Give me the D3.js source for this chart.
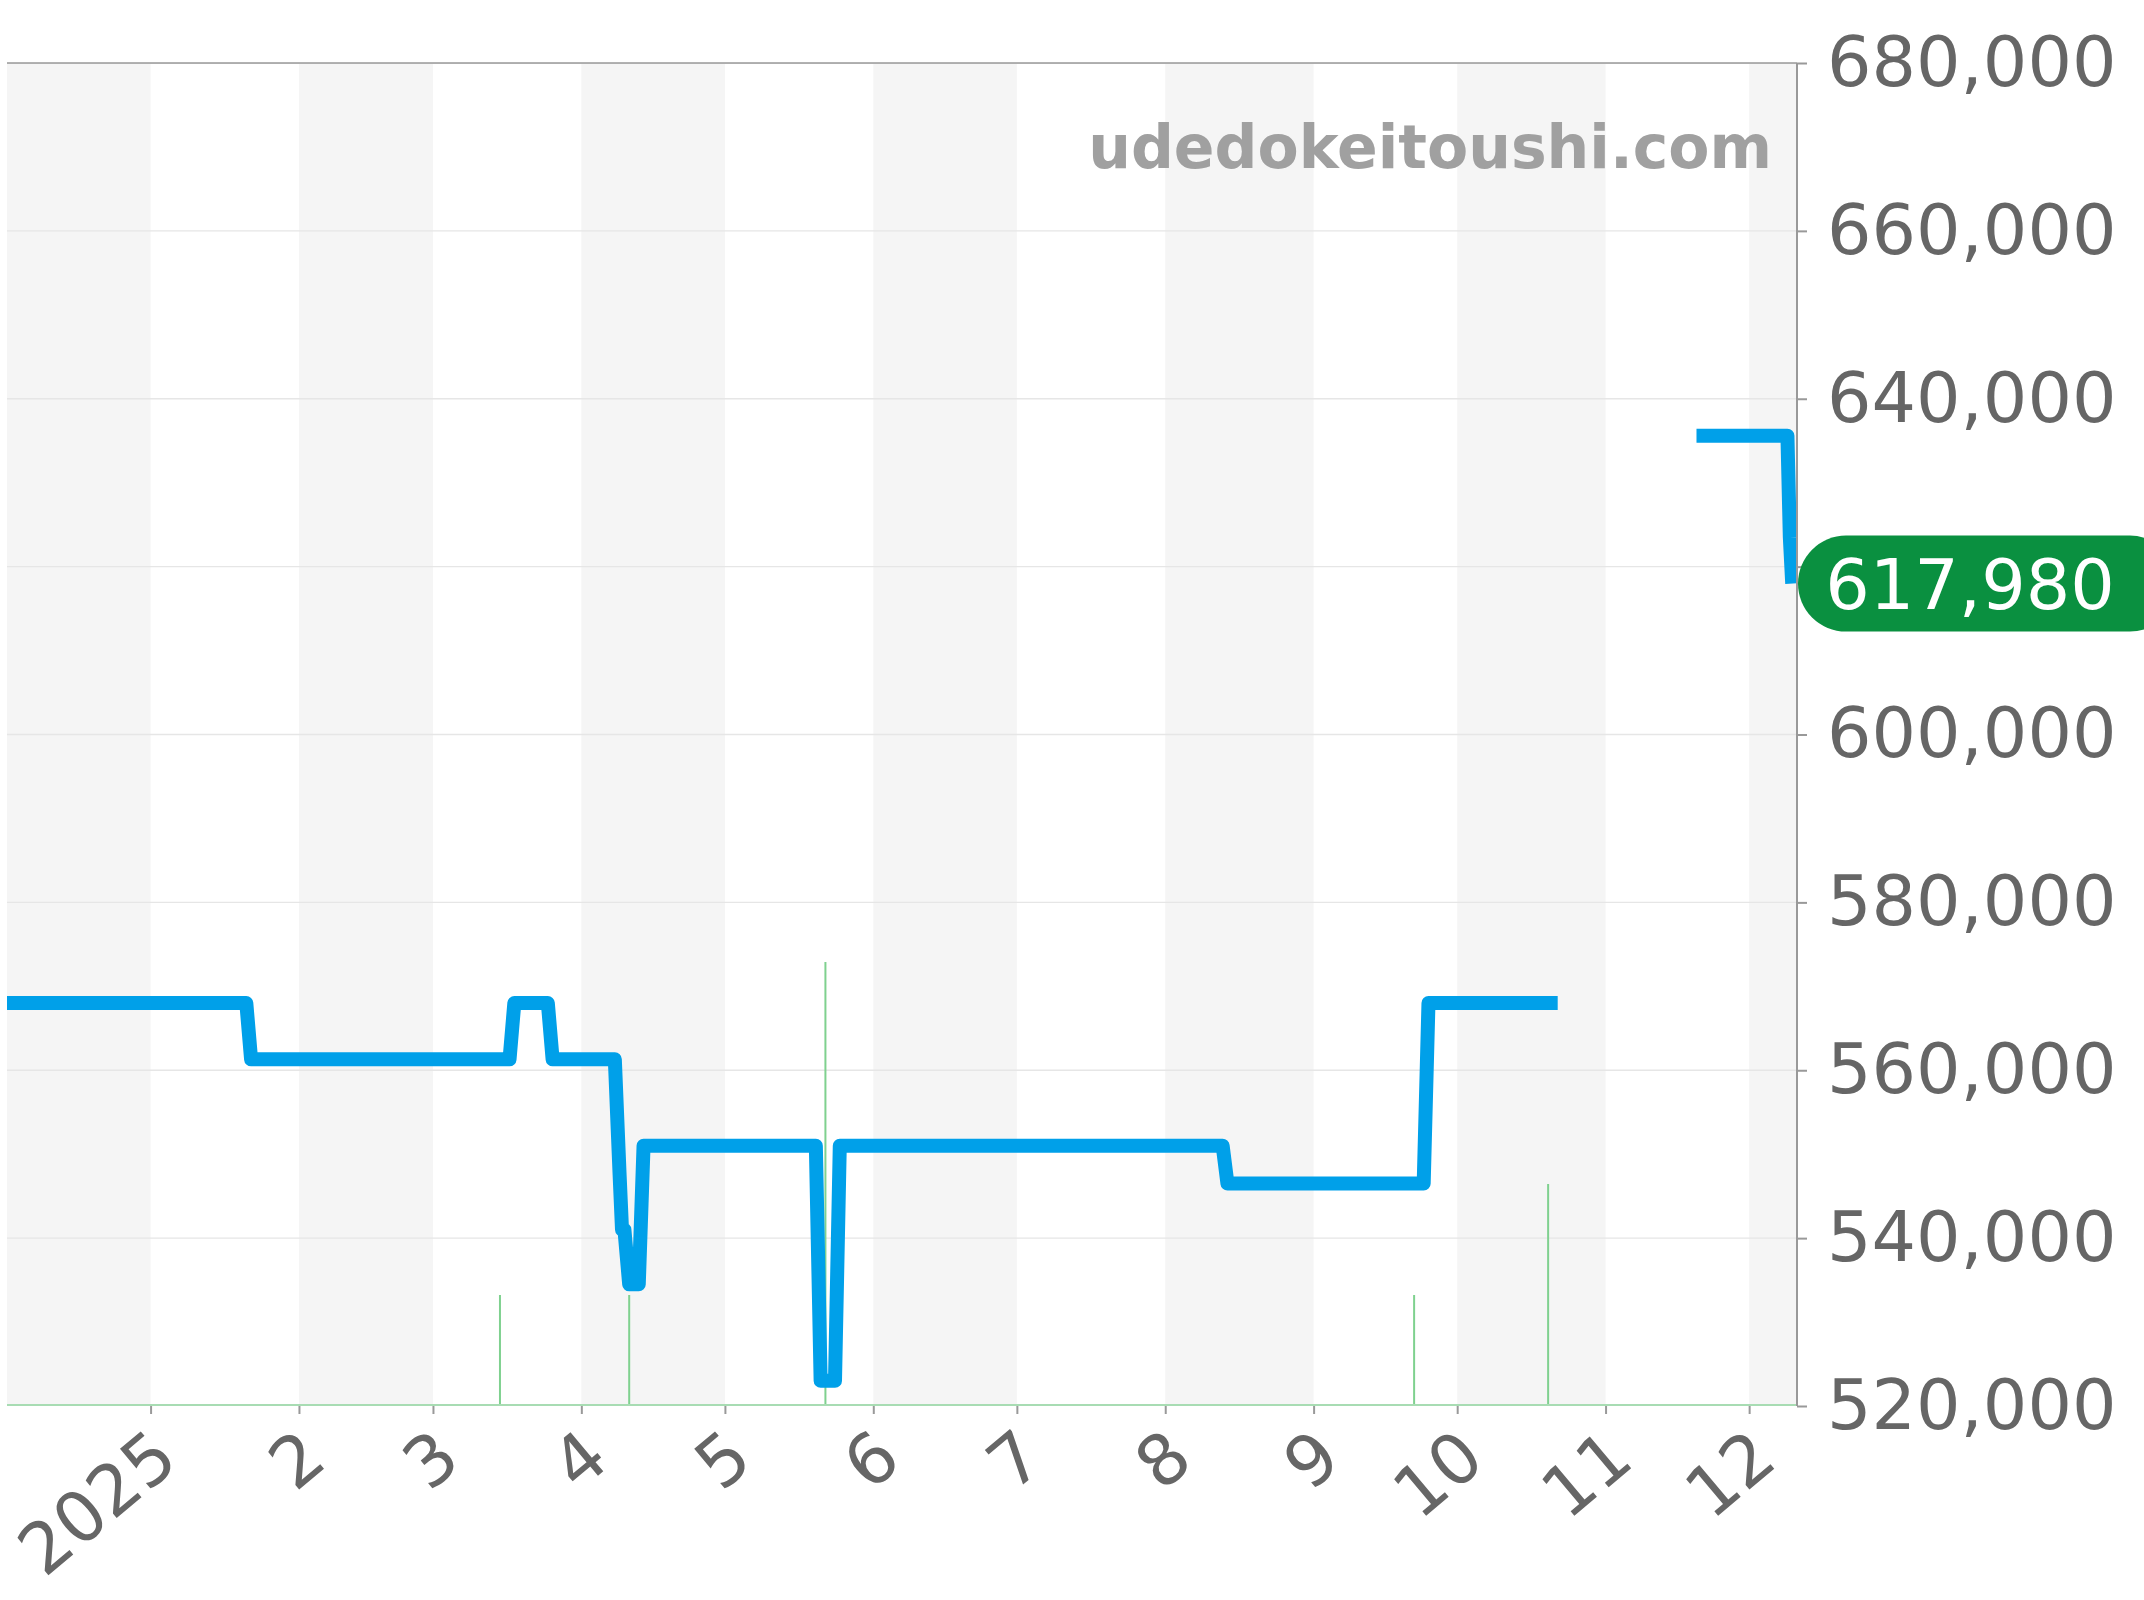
<!DOCTYPE html>
<html><head><meta charset="utf-8">
<script src="https://cdn.jsdelivr.net/npm/d3@7"></script>
<style>body{margin:0;background:#fff}</style></head>
<body><svg id="c" width="2144" height="1600"></svg>
<script>
const priceDates=["2024-12-02","2025-01-21","2025-01-22","2025-03-17","2025-03-18","2025-03-25","2025-03-26","2025-04-08","2025-04-09","2025-04-09T12","2025-04-10","2025-04-11","2025-04-12","2025-04-13","2025-04-14","2025-05-20","2025-05-21","2025-05-24","2025-05-25","2025-08-13","2025-08-14","2025-09-24","2025-09-25","2025-10-22","2025-10-23","2025-11-20","2025-12-09","2025-12-09T12","2025-12-10"];
const priceValues=[568000,568000,561300,561300,568000,568000,561300,561300,547500,541000,541000,534500,534500,534500,551000,551000,523000,523000,551000,551000,546500,546500,568000,568000,null,635600,635600,623500,617980];
const volDates=["2025-03-15","2025-04-11","2025-05-22","2025-09-22","2025-10-20"];
const volValues=[1,1,4,1,2];
const gridTicks=[520000,540000,560000,580000,600000,620000,640000,660000,680000];
const yTickLabels=[520000,540000,560000,580000,600000,640000,660000,680000];
const monthTicks=["2025-01-01","2025-02-01","2025-03-01","2025-04-01","2025-05-01","2025-06-01","2025-07-01","2025-08-01","2025-09-01","2025-10-01","2025-11-01","2025-12-01"];
const monthLabels=["2025","2","3","4","5","6","7","8","9","10","11","12"];
const shadeStarts=["2024-12-01","2025-02-01","2025-04-01","2025-06-01","2025-08-01","2025-10-01","2025-12-01"];
const lastLabel="617,980";

const P=d=>new Date(d.length>10?d+":00":d+"T00:00");
const L=7,R=1797,T=63,B=1406;
const svg=d3.select("#c");
const x=d3.scaleTime().domain([P("2024-12-02"),P("2025-12-11")]).range([L,R]);
const y=d3.scaleLinear().domain([520000,680000]).range([B,T]);
const yv=d3.scaleLinear().domain([0,1]).range([B,B-111]);
svg.append("defs").append("clipPath").attr("id","cl").append("rect").attr("x",L).attr("y",T).attr("width",R-L).attr("height",B-T);
const g=svg.append("g").attr("clip-path","url(#cl)");
shadeStarts.forEach(s=>{const a=P(s),b=d3.timeMonth.offset(a,1);
 g.append("rect").attr("x",x(a)).attr("y",T).attr("width",x(b)-x(a)).attr("height",B-T).attr("fill","#f5f5f5");});
gridTicks.forEach(t=>g.append("line").attr("x1",L).attr("x2",R).attr("y1",y(t)).attr("y2",y(t)).attr("stroke","#e6e6e6").attr("stroke-width",1.3));
volDates.forEach((d,i)=>g.append("line").attr("x1",x(P(d))).attr("x2",x(P(d))).attr("y1",B).attr("y2",yv(volValues[i])).attr("stroke","#7fd18f").attr("stroke-width",2));
g.append("line").attr("x1",L).attr("x2",R).attr("y1",B-1).attr("y2",B-1).attr("stroke","#a8dcb3").attr("stroke-width",2);
const data=priceDates.map((d,i)=>({d:P(d),v:priceValues[i]}));
g.append("path").datum(data).attr("fill","none").attr("stroke","#00a0e9").attr("stroke-width",14).attr("stroke-linejoin","round")
 .attr("d",d3.line().defined(p=>p.v!=null).x(p=>x(p.d)).y(p=>y(p.v)));
svg.append("line").attr("x1",L).attr("x2",R).attr("y1",T).attr("y2",T).attr("stroke","#999").attr("stroke-width",1.5);
svg.append("line").attr("x1",R).attr("x2",R).attr("y1",T).attr("y2",B).attr("stroke","#999").attr("stroke-width",2);
const ya=svg.append("g").attr("transform",`translate(${R},0)`).call(d3.axisRight(y).tickValues(gridTicks).tickFormat(d=>yTickLabels.includes(d)?d3.format(",")(d):"").tickSize(10).tickPadding(20));
ya.select(".domain").remove();
ya.selectAll("line").attr("stroke","#999").attr("stroke-width",2);
ya.selectAll("text").attr("fill","#666").attr("font-family","DejaVu Sans").attr("font-size",70);
const xa=svg.append("g").attr("transform",`translate(0,${B})`).call(d3.axisBottom(x).tickValues(monthTicks.map(P)).tickFormat((d,i)=>monthLabels[i]).tickSize(8));
xa.select(".domain").remove();
xa.selectAll("line").attr("stroke","#999").attr("stroke-width",2);
xa.selectAll("text").attr("fill","#666").attr("font-family","DejaVu Sans").attr("font-size",70)
 .attr("text-anchor","end").attr("dy",0).attr("y",0).attr("transform","translate(30,58) rotate(-40)");
svg.append("text").attr("x",1772).attr("y",168).attr("text-anchor","end").attr("font-family","DejaVu Sans").attr("font-weight","bold").attr("font-size",60).attr("fill","#a0a0a0").text("udedokeitoushi.com");
const ly=y(617980);
svg.append("rect").attr("x",1798).attr("y",ly-48).attr("width",380).attr("height",96).attr("rx",48).attr("fill","#0a9040");
svg.append("text").attr("x",1970).attr("y",ly+25).attr("text-anchor","middle").attr("font-family","DejaVu Sans").attr("font-size",70).attr("fill","#fff").text(lastLabel);
</script></body></html>
